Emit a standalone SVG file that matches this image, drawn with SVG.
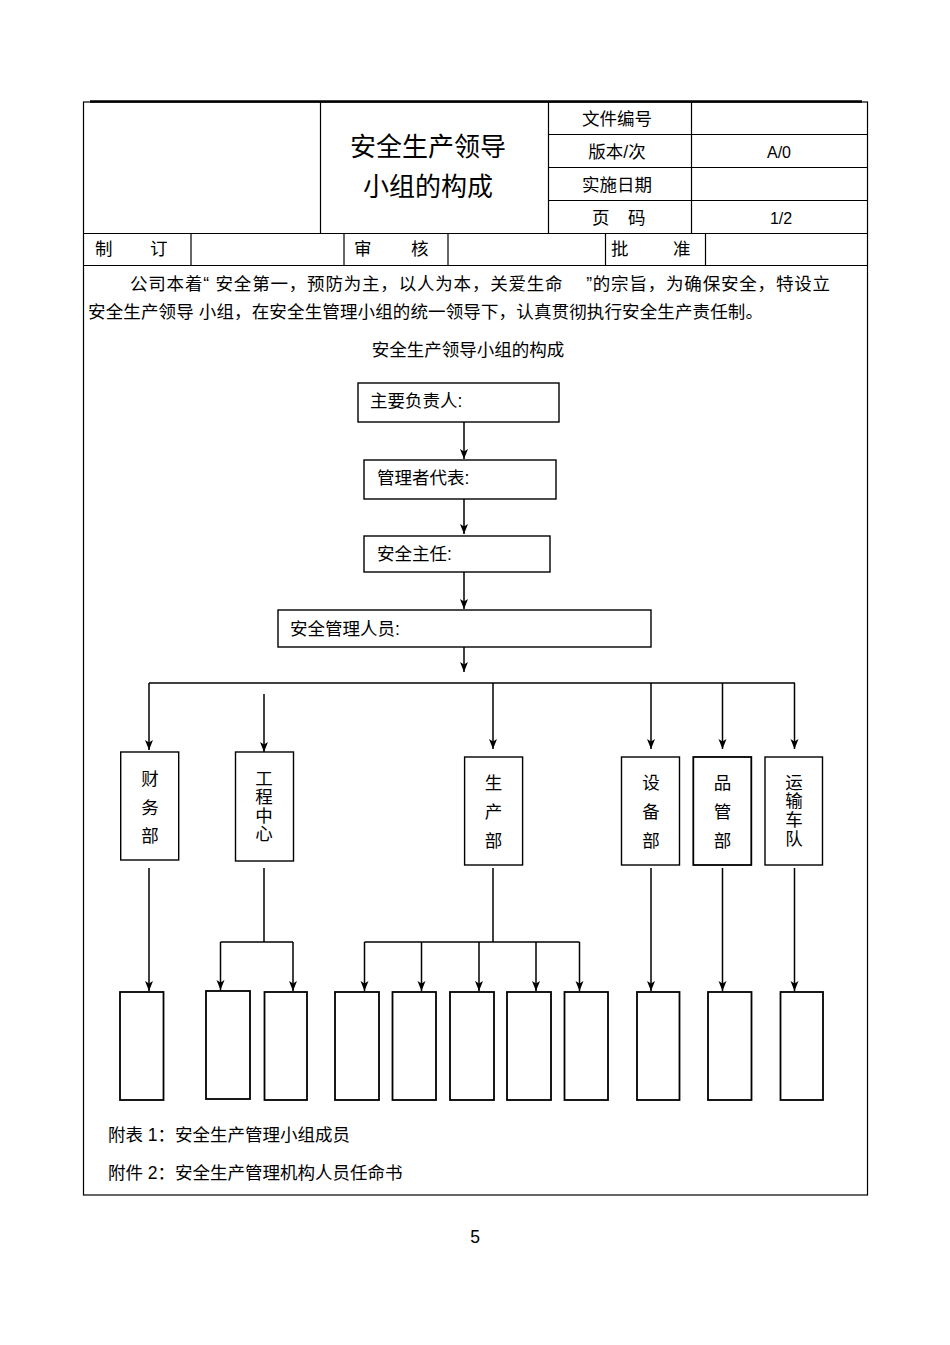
<svg xmlns="http://www.w3.org/2000/svg" width="950" height="1345" viewBox="0 0 950 1345">
<defs>
<style>
text{font-family:"Liberation Sans","Noto Sans CJK SC",sans-serif;fill:#000;}
.t17{font-size:17.5px;}
.t16{font-size:16px;}
.mid{text-anchor:middle;}
.grid{stroke:#000;stroke-width:1.2;fill:none;}
.box{fill:#fff;stroke:#000;stroke-width:1.4;}
.box2{fill:#fff;stroke:#000;stroke-width:1.8;}
.line{stroke:#000;stroke-width:1.5;fill:none;}
.arr{stroke:#000;stroke-width:1.5;fill:none;marker-end:url(#ah);}
</style>
<marker id="ah" viewBox="0 0 10 8" markerWidth="10" markerHeight="9" markerUnits="userSpaceOnUse" orient="auto" refX="10" refY="4">
<path d="M0,0 L10,4 L0,8 L2.5,4 z" fill="#000"/>
</marker>
</defs>
<rect width="950" height="1345" fill="#fff"/>

<g id="header-table">
<rect class="grid" x="83.5" y="102" width="784" height="1093"/>
<line x1="90" y1="101.5" x2="862" y2="101.5" stroke="#000" stroke-width="2.5"/>
<line class="grid" x1="548.5" y1="134.5" x2="867.5" y2="134.5"/>
<line class="grid" x1="548.5" y1="167.5" x2="867.5" y2="167.5"/>
<line class="grid" x1="548.5" y1="200.5" x2="867.5" y2="200.5"/>
<line class="grid" x1="83.5" y1="233.5" x2="867.5" y2="233.5"/>
<line class="grid" x1="83.5" y1="265.5" x2="867.5" y2="265.5"/>
<line class="grid" x1="320.5" y1="102" x2="320.5" y2="233.5"/>
<line class="grid" x1="548.5" y1="102" x2="548.5" y2="233.5"/>
<line class="grid" x1="691.5" y1="102" x2="691.5" y2="233.5"/>
<line class="grid" x1="191" y1="233.5" x2="191" y2="265.5"/>
<line class="grid" x1="344" y1="233.5" x2="344" y2="265.5"/>
<line class="grid" x1="448" y1="233.5" x2="448" y2="265.5"/>
<line class="grid" x1="605.5" y1="233.5" x2="605.5" y2="265.5"/>
<line class="grid" x1="705.5" y1="233.5" x2="705.5" y2="265.5"/>
<text class="mid" x="428" y="156" font-size="26">安全生产领导</text>
<text class="mid" x="428" y="196" font-size="26">小组的构成</text>
<text class="t17 mid" x="617" y="125">文件编号</text>
<text class="t17 mid" x="617" y="158">版本/次</text>
<text class="t17 mid" x="617" y="191">实施日期</text>
<text class="t17" x="592" y="224">页</text>
<text class="t17" x="628" y="224">码</text>
<text class="t16 mid" x="779" y="158">A/0</text>
<text class="t16 mid" x="781" y="224">1/2</text>
<text class="t17" x="95" y="255">制</text>
<text class="t17" x="150" y="255">订</text>
<text class="t17" x="354" y="255">审</text>
<text class="t17" x="411" y="255">核</text>
<text class="t17" x="611" y="255">批</text>
<text class="t17" x="673" y="255">准</text>
</g>

<g id="intro">
<text class="t17" x="130" y="290" textLength="700" lengthAdjust="spacing">公司本着“&#160;安全第一，预防为主，以人为本，关爱生命&#160;&#160;&#160;&#160;”的宗旨，为确保安全，特设立</text>
<text class="t17" x="88" y="318" textLength="675" lengthAdjust="spacing">安全生产领导&#160;小组，在安全生管理小组的统一领导下，认真贯彻执行安全生产责任制。</text>
<text class="t17 mid" x="468" y="356">安全生产领导小组的构成</text>
</g>

<g id="connectors">
<line class="arr" x1="464" y1="422" x2="464" y2="459"/>
<line class="arr" x1="464" y1="499" x2="464" y2="534"/>
<line class="arr" x1="464" y1="572" x2="464" y2="609"/>
<line class="arr" x1="464" y1="647" x2="464" y2="672"/>
<line class="line" x1="149" y1="683" x2="795" y2="683"/>
<line class="arr" x1="149" y1="683" x2="149" y2="750"/>
<line class="arr" x1="264" y1="694" x2="264" y2="752"/>
<line class="arr" x1="493" y1="683" x2="493" y2="749"/>
<line class="arr" x1="651" y1="683" x2="651" y2="749"/>
<line class="arr" x1="722.5" y1="683" x2="722.5" y2="749"/>
<line class="arr" x1="794.5" y1="683" x2="794.5" y2="749"/>
<line class="arr" x1="149" y1="868" x2="149" y2="991"/>
<line class="line" x1="264" y1="868" x2="264" y2="942"/>
<line class="line" x1="220.5" y1="942" x2="293" y2="942"/>
<line class="arr" x1="220.5" y1="942" x2="220.5" y2="990"/>
<line class="arr" x1="293" y1="942" x2="293" y2="991"/>
<line class="line" x1="493" y1="868" x2="493" y2="942"/>
<line class="line" x1="364.5" y1="942" x2="579.5" y2="942"/>
<line class="arr" x1="364.5" y1="942" x2="364.5" y2="991"/>
<line class="arr" x1="421.5" y1="942" x2="421.5" y2="991"/>
<line class="arr" x1="479" y1="942" x2="479" y2="991"/>
<line class="arr" x1="536" y1="942" x2="536" y2="991"/>
<line class="arr" x1="579.5" y1="942" x2="579.5" y2="991"/>
<line class="arr" x1="651" y1="868" x2="651" y2="991"/>
<line class="arr" x1="722.5" y1="868" x2="722.5" y2="991"/>
<line class="arr" x1="794.5" y1="868" x2="794.5" y2="991"/>
</g>

<g id="n-leader">
<rect class="box" x="358" y="383" width="201" height="39"/>
<text class="t17" x="370" y="407">主要负责人:</text>
</g>
<g id="n-rep">
<rect class="box" x="364" y="460" width="192" height="39"/>
<text class="t17" x="377" y="484">管理者代表:</text>
</g>
<g id="n-director">
<rect class="box" x="364" y="536" width="186" height="36"/>
<text class="t17" x="377" y="560">安全主任:</text>
</g>
<g id="n-staff">
<rect class="box" x="278" y="610" width="373" height="37"/>
<text class="t17" x="290" y="635">安全管理人员:</text>
</g>

<g id="d-finance">
<rect class="box" x="120.7" y="752" width="58" height="108"/>
<text class="t17 mid" x="150" y="785">财</text>
<text class="t17 mid" x="150" y="814">务</text>
<text class="t17 mid" x="150" y="842">部</text>
</g>
<g id="d-engineering">
<rect class="box" x="235.5" y="752" width="58" height="109"/>
<text class="t17 mid" x="264" y="785">工</text>
<text class="t17 mid" x="264" y="803">程</text>
<text class="t17 mid" x="264" y="822">中</text>
<text class="t17 mid" x="264" y="840">心</text>
</g>
<g id="d-production">
<rect class="box" x="464.6" y="757" width="58" height="108"/>
<text class="t17 mid" x="493.5" y="788.5">生</text>
<text class="t17 mid" x="493.5" y="818">产</text>
<text class="t17 mid" x="493.5" y="846.5">部</text>
</g>
<g id="d-equipment">
<rect class="box" x="621.5" y="757" width="58" height="108"/>
<text class="t17 mid" x="651" y="788.5">设</text>
<text class="t17 mid" x="651" y="818">备</text>
<text class="t17 mid" x="651" y="846.5">部</text>
</g>
<g id="d-quality">
<rect class="box2" x="693.3" y="757" width="58" height="108"/>
<text class="t17 mid" x="722.5" y="788.5">品</text>
<text class="t17 mid" x="722.5" y="818">管</text>
<text class="t17 mid" x="722.5" y="846.5">部</text>
</g>
<g id="d-transport">
<rect class="box" x="765" y="757" width="57.5" height="108"/>
<text class="t17 mid" x="794" y="789">运</text>
<text class="t17 mid" x="794" y="807">输</text>
<text class="t17 mid" x="794" y="826">车</text>
<text class="t17 mid" x="794" y="845">队</text>
</g>

<g id="members">
<rect id="m1" class="box2" x="120" y="992" width="43.5" height="108"/>
<rect id="m2" class="box2" x="206" y="991" width="44" height="108"/>
<rect id="m3" class="box2" x="264.5" y="992" width="42.5" height="108"/>
<rect id="m4" class="box2" x="335" y="992" width="44" height="108"/>
<rect id="m5" class="box2" x="392.5" y="992" width="43.5" height="108"/>
<rect id="m6" class="box2" x="450" y="992" width="44" height="108"/>
<rect id="m7" class="box2" x="507" y="992" width="44" height="108"/>
<rect id="m8" class="box2" x="564.5" y="992" width="43.5" height="108"/>
<rect id="m9" class="box2" x="637" y="992" width="42.5" height="108"/>
<rect id="m10" class="box2" x="708" y="992" width="43.5" height="108"/>
<rect id="m11" class="box2" x="780.5" y="992" width="42.5" height="108"/>
</g>

<g id="footer">
<text class="t17" x="108" y="1141">附表 1：安全生产管理小组成员</text>
<text class="t17" x="108" y="1179">附件 2：安全生产管理机构人员任命书</text>
<text class="t17 mid" x="475" y="1243">5</text>
</g>
</svg>
